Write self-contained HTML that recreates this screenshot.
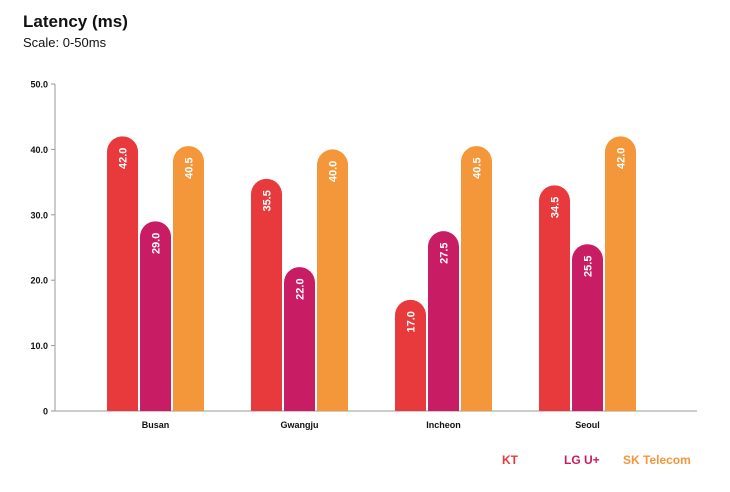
<!DOCTYPE html>
<html><head><meta charset="utf-8"><style>
body{margin:0;background:#fff;font-family:"Liberation Sans",sans-serif;}
</style></head><body>
<svg width="730" height="487" viewBox="0 0 730 487" xmlns="http://www.w3.org/2000/svg">
<text x="23" y="27" font-size="17" font-weight="bold" fill="#111">Latency (ms)</text>
<text x="23" y="47" font-size="13" fill="#111">Scale: 0-50ms</text>
<g id="axes"></g>
<g id="bars"></g>
<text x="502" y="464" font-size="12" font-weight="bold" fill="#e8393c">KT</text>
<text x="564" y="464" font-size="12" font-weight="bold" fill="#c81c64">LG U+</text>
<text x="623" y="464" font-size="12" font-weight="bold" fill="#f4963a">SK Telecom</text>
</svg>
<script>
const categories=["Busan","Gwangju","Incheon","Seoul"];
const kt=[42.0,35.5,17.0,34.5];
const lgu=[29.0,22.0,27.5,25.5];
const skt=[40.5,40.0,40.5,42.0];
const yTicks=[0,10,20,30,40,50];
const NS="http://www.w3.org/2000/svg";
const y0=411,y1=84,yMax=50;
function yScale(v){return y0-(v/yMax)*(y0-y1);}
function groupX(i){return 107+i*144;}
const barW=31,gap=33;
function mk(t,a,p){const e=document.createElementNS(NS,t);for(const k in a)e.setAttribute(k,a[k]);p.appendChild(e);return e;}
const ax=document.getElementById('axes'),bg=document.getElementById('bars');
const yl=mk('line',{x1:55,y1:y1,x2:55,y2:y0,stroke:'#999','stroke-width':1},ax);


const xl=mk('line',{x1:55,y1:y0,x2:697,y2:y0,stroke:'#999','stroke-width':1},ax);


yTicks.forEach(t=>{const y=yScale(t);
 mk('line',{x1:51,y1:y,x2:55,y2:y,stroke:'#999'},ax);
 const tx=mk('text',{x:48,y:y+3.5,'font-size':9,'font-weight':'bold','text-anchor':'end',fill:'#111'},ax);
 tx.textContent=t===0?'0':t.toFixed(1);
 
 
});
const series=[[kt,'#e8393c','kt'],[lgu,'#c81c64','lg-uplus'],[skt,'#f4963a','sk-telecom']];
categories.forEach((c,i)=>{
 const gx=groupX(i);
 series.forEach((s,j)=>{
  const v=s[0][i],x=gx+j*gap,top=yScale(v),r=barW/2,h=y0-top;
  const p=mk('path',{d:`M${x},${y0} L${x},${top+r} A${r},${r} 0 0 1 ${x+barW},${top+r} L${x+barW},${y0} Z`,fill:s[1]},bg);
  
  
  const lx=x+r+4,ly=top+22;
  const t=mk('text',{x:lx,y:ly,'font-size':11,'font-weight':'bold',fill:'#fff','text-anchor':'middle',transform:`rotate(-90 ${lx} ${ly})`},bg);
  t.textContent=v.toFixed(1);
  
  
 });
 const ct=mk('text',{x:gx+gap+barW/2,y:428,'font-size':9,'font-weight':'bold','text-anchor':'middle',fill:'#111'},ax);
 ct.textContent=c;
 
 
});
</script>
</body></html>
